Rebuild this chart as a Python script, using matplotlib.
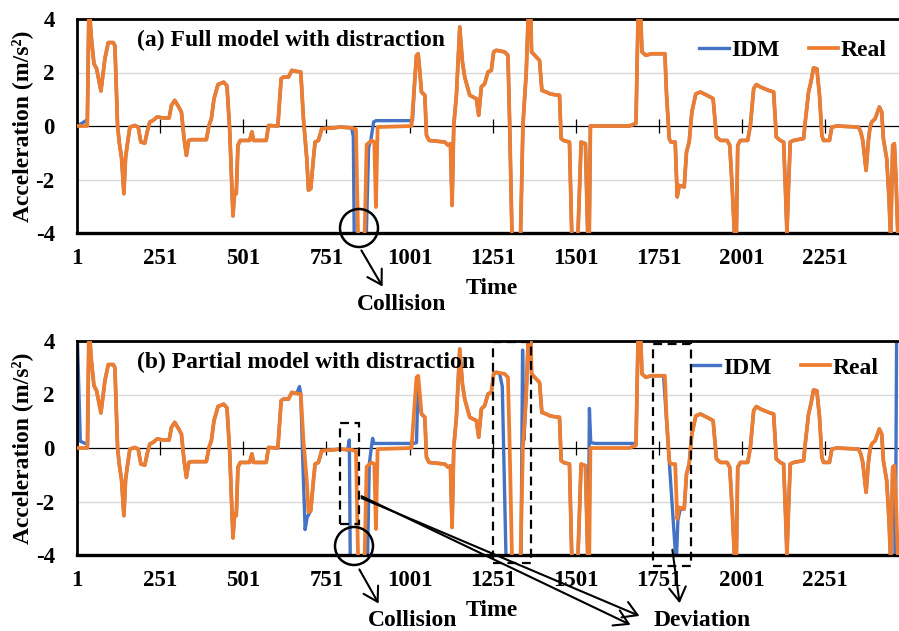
import matplotlib
matplotlib.use("Agg")
import matplotlib.pyplot as plt
from matplotlib.patches import Ellipse, Rectangle, FancyArrowPatch

W, H = 899, 631

# real trajectory (same in both panels), breakpoints
REAL_T = [1, 32, 37, 44, 52, 60, 73, 85, 95, 110, 115, 123, 128, 135, 142, 147,
          152, 160, 175, 185, 193, 205, 212, 220, 230, 242, 260, 278, 285, 295,
          305, 315, 323, 330, 337, 345, 390, 398, 405, 413, 425, 442, 452, 460,
          465, 470, 475, 480, 485, 492, 520, 527, 532, 570, 577, 605, 615, 622,
          637, 647, 662, 674, 682, 692, 697, 704, 712, 717, 727, 737, 772, 792,
          827, 840, 847, 865, 872, 887, 895, 900, 905, 1007, 1017, 1022, 1027,
          1032, 1037, 1047, 1052, 1060, 1107, 1117, 1124, 1129, 1134, 1142, 1152,
          1160, 1167, 1182, 1202, 1209, 1217, 1227, 1237, 1247, 1254, 1262, 1287,
          1297, 1302, 1310, 1334, 1342, 1352, 1359, 1365, 1368, 1382, 1392, 1399,
          1412, 1424, 1437, 1452, 1457, 1464, 1482, 1490, 1506, 1517, 1530, 1538,
          1541, 1545, 1662, 1682, 1689, 1695, 1700, 1712, 1727, 1769, 1774, 1782,
          1787, 1800, 1806, 1812, 1827, 1834, 1842, 1850, 1862, 1876, 1906, 1914,
          1924, 1936, 1956, 1964, 1971, 1978, 1984, 1988, 1996, 2018, 2026, 2036,
          2044, 2056, 2081, 2096, 2104, 2116, 2126, 2131, 2136, 2141, 2146, 2156,
          2186, 2191, 2201, 2208, 2216, 2226, 2234, 2241, 2246, 2264, 2271, 2286,
          2351, 2358, 2364, 2374, 2381, 2386, 2391, 2401, 2414, 2421, 2426, 2436,
          2443, 2448, 2454, 2459, 2464, 2470]
REAL_V = [0.0, 0.0, 4.6, 3.3, 2.33, 2.14, 1.31, 2.52, 3.12, 3.12, 3.0, 0.0, -0.6,
          -1.2, -2.53, -1.2, -0.72, -0.04, 0.02, -0.04, -0.6, -0.64, -0.22, 0.15,
          0.21, 0.34, 0.3, 0.3, 0.77, 0.96, 0.75, 0.52, -0.47, -1.1, -0.54, -0.51,
          -0.51, 0.02, 0.27, 1.02, 1.55, 1.64, 1.5, -0.1, -1.72, -3.36, -2.47,
          -2.53, -0.72, -0.54, -0.54, -0.22, -0.54, -0.54, 0.02, 0.0, 1.77, 1.83,
          1.83, 2.08, 2.04, 2.02, 0.27, -1.22, -2.4, -2.34, -1.22, -0.6, -0.54,
          -0.1, -0.07, -0.04, -0.07, -0.12, -4.6, -4.6, -0.7, -0.54, -0.6, -3.03,
          -0.04, 0.0, 1.77, 2.64, 2.7, 2.02, 1.27, 1.15, -0.35, -0.54, -0.6, -0.72,
          -0.66, -2.97, 0.02, 1.15, 3.7, 2.4, 1.83, 1.15, 1.02, 0.4, 1.46, 1.58,
          2.02, 2.08, 2.77, 2.83, 2.77, 2.64, 0.15, -4.6, -4.6, 0.02, 2.0, 4.5,
          4.5, 2.77, 2.58, 2.45, 1.33, 1.27, 1.2, 1.17, 1.15, -0.47, -0.54, -0.6,
          -4.6, -4.6, -0.6, -0.66, -4.6, -4.6, 0.0, 0.0, 0.1, 4.6, 4.6, 2.77,
          2.64, 2.7, 2.7, 1.15, -0.47, -0.6, -0.6, -2.65, -2.22, -2.28, -0.97,
          -0.6, 0.52, 1.2, 1.27, 1.08, 1.02, -0.41, -0.54, -0.54, -0.72, -2.22,
          -4.0, -4.0, -0.72, -0.54, -0.54, 0.02, 1.4, 1.55, 1.46, 1.33, 1.27,
          -0.41, -0.54, -0.6, -2.22, -4.0, -2.2, -0.6, -0.54, -0.47, 0.15, 1.27,
          1.64, 2.17, 2.14, 1.15, -0.35, -0.54, -0.54, -0.04, 0.0, -0.04, -0.22,
          -0.54, -1.66, -0.54, -0.04, 0.15, 0.27, 0.71, 0.52, -0.47, -1.22, -2.72,
          -4.3, -0.72, -0.66, -1.97, -4.3]

# IDM (full model): follows the real trace except these stretches
IDM_A_SEGMENTS = [
    ([1, 15, 28, 32], [0.0, 0.1, 0.2, 0.1]),
    ([827, 832, 835, 870, 878, 885, 893, 900, 1010, 1017],
     [-0.07, -0.4, -4.6, -4.6, -0.8, -0.5, 0.15, 0.2, 0.2, 1.77]),
]

# IDM (partial model)
IDM_B_SEGMENTS = [
    ([1, 11, 30, 33], [4.6, 0.25, 0.15, 0.1]),
    ([662, 670, 674, 680, 687, 693, 704], [2.04, 2.3, 2.0, -0.5, -3.05, -2.6, -2.34]),
    ([815, 820, 823, 874, 880, 887, 890, 894, 1012, 1022, 1026, 1030, 1037, 1047],
     [-0.07, 0.3, -4.6, -4.6, -0.6, 0.1, 0.36, 0.17, 0.17, 0.2, 2.2, 1.8, 1.27, 1.15]),
    ([1262, 1272, 1280, 1292, 1336, 1341, 1345, 1352],
     [2.83, 2.77, 2.3, -4.6, -4.6, 3.66, 0.3, 2.0]),
    ([1538, 1542, 1546, 1560, 1682, 1689], [-4.6, 1.48, 0.2, 0.17, 0.17, 4.6]),
    ([1765, 1803, 1808, 1815, 1827], [2.7, -4.4, -2.7, -2.3, -2.28]),
    ([2459, 2462, 2466, 2472], [-0.66, -4.5, 4.5, 4.5]),
]

XTICKS = [1, 251, 501, 751, 1001, 1251, 1501, 1751, 2001, 2251]
YTICKS = [4, 2, 0, -2, -4]

BLUE = "#4472C4"
ORANGE = "#ED7D31"


def splice(base_t, base_v, segments):
    t, v = list(base_t), list(base_v)
    for seg_t, seg_v in segments:
        keep_l = [(a, b) for a, b in zip(t, v) if a < seg_t[0]]
        keep_r = [(a, b) for a, b in zip(t, v) if a > seg_t[-1]]
        pts = keep_l + list(zip(seg_t, seg_v)) + keep_r
        t = [p[0] for p in pts]
        v = [p[1] for p in pts]
    return t, v


def fxy(px, py):
    return (px / W, 1 - py / H)


plt.rcParams["font.family"] = ["Liberation Serif", "DejaVu Serif"]
plt.rcParams["font.weight"] = "bold"

fig = plt.figure(figsize=(W / 100, H / 100), dpi=100)
ax_a = fig.add_axes([77 / W, 1 - 233 / H, 1 - 77 / W, 214 / H])
ax_b = fig.add_axes([77 / W, 1 - 555 / H, 1 - 77 / W, 214 / H])

idm_a = splice(REAL_T, REAL_V, IDM_A_SEGMENTS)
idm_b = splice(REAL_T, REAL_V, IDM_B_SEGMENTS)

for ax, idm, title, leg_xy in [
    (ax_a, idm_a, "(a) Full model with distraction", (0.871, 0.855)),
    (ax_b, idm_b, "(b) Partial model with distraction", (0.861, 0.874)),
]:
    for g in (2, -2):
        ax.axhline(g, color="#d9d9d9", lw=1.0, zorder=0)
    ax.axhline(0, color="black", lw=0.9, zorder=1)
    ax.vlines(XTICKS[1:], -0.25, 0.25, color="black", lw=0.9, zorder=1)
    ax.plot(idm[0], idm[1], color=BLUE, lw=2.4, label="IDM", zorder=2)
    ax.plot(REAL_T, REAL_V, color=ORANGE, lw=2.7, label="Real", zorder=3)
    ax.set_xlim(1, 2473)
    ax.set_ylim(-4, 4)
    ax.set_xticks(XTICKS)
    ax.set_xticklabels([str(x) for x in XTICKS])
    ax.set_yticks(YTICKS)
    ax.set_yticklabels([str(y) for y in YTICKS])
    ax.tick_params(axis="both", length=0, labelsize=16.5)
    ax.tick_params(axis="y", pad=16)
    ax.tick_params(axis="x", pad=11)
    ax.spines["right"].set_visible(False)
    ax.spines["left"].set_linewidth(2.0)
    ax.spines["top"].set_linewidth(2.0)
    ax.spines["bottom"].set_linewidth(2.4)
    ax.text(0.073, 0.898, title, transform=ax.transAxes, fontsize=17,
            fontweight="bold", ha="left", va="center")
    ax.legend(loc="center", bbox_to_anchor=leg_xy, ncol=2, frameon=False,
              fontsize=17, handlelength=1.25, handletextpad=0.1,
              columnspacing=1.25)

# axis titles
for cy in (126, 448):
    fig.text(*fxy(22, cy), "Acceleration (m/s²)", rotation=90, fontsize=17,
             fontweight="bold", ha="center", va="center")
for cy in (289, 610):
    fig.text(*fxy(492, cy), "Time", fontsize=17, fontweight="bold",
             ha="center", va="center")

# annotations
for cx, cy in [(359, 228), (354, 546)]:
    fig.add_artist(Ellipse(fxy(cx, cy), 38 / W, 38 / H, transform=fig.transFigure,
                           fill=False, ec="black", lw=1.8))


def arrow(p0, p1):
    fig.add_artist(FancyArrowPatch(fxy(*p0), fxy(*p1), transform=fig.transFigure,
                                   arrowstyle="->,head_length=0.5,head_width=0.3",
                                   mutation_scale=20, lw=1.5, color="black"))


arrow((360, 248), (384, 289))
arrow((358, 567), (380, 606))
arrow((359, 495), (633, 626))
arrow((359, 497), (642, 617))
arrow((672, 547), (680, 606))

for x0, y0, x1, y1 in [(340, 423, 359, 524), (493, 342, 531, 563), (653, 344, 691, 566)]:
    fig.add_artist(Rectangle(fxy(x0, y1), (x1 - x0) / W, (y1 - y0) / H,
                             transform=fig.transFigure, fill=False, ec="black",
                             lw=1.6, ls=(0, (4, 2.5))))

fig.text(*fxy(402, 304), "Collision", fontsize=17, fontweight="bold",
         ha="center", va="center")
fig.text(*fxy(413, 620), "Collision", fontsize=17, fontweight="bold",
         ha="center", va="center")
fig.text(*fxy(702, 620), "Deviation", fontsize=17, fontweight="bold",
         ha="center", va="center")

fig.savefig("out.png", dpi=100)
